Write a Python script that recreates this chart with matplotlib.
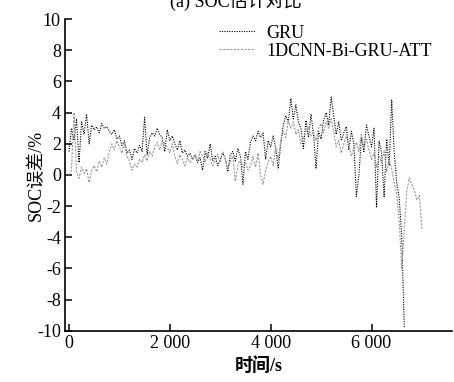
import numpy as np
import matplotlib
matplotlib.use("Agg")
import matplotlib.pyplot as plt

plt.rcParams["font.family"] = ["Liberation Serif", "Noto Sans CJK SC"]
plt.rcParams["axes.unicode_minus"] = False

# ============================================
# Data (SOC error in %, one sample every 50 s)
# ============================================
step_s = 50

gru_err = [
    1.5, 3.0, 2.2, 3.6, 0.8, 3.4, 2.6, 3.9, 2.0, 3.2,
    2.9, 3.1, 2.7, 3.3, 3.0, 3.1, 2.8, 2.6, 2.9, 2.3,
    2.5, 1.9, 2.2, 1.4, 1.6, 1.0, 1.7, 1.4, 1.9, 1.5,
    3.7, 1.3, 2.4, 2.7, 2.5, 3.0, 2.6, 2.4, 1.5, 2.9,
    2.2, 2.5, 2.0, 1.6, 2.2, 1.4, 1.6, 1.2, 1.4, 1.0,
    1.3, 0.8, 1.1, 0.3, 1.5, 1.1, 2.0, 0.9, 1.2, 0.6,
    1.0, 1.4, 1.1, 0.2, 1.3, 1.5, 0.9, 1.7, 1.2, -0.6,
    1.5, 1.0, 2.1, 2.5, 2.2, 2.8, 2.4, 2.7, 1.0, 2.2,
    1.8, 2.5, 1.7, 0.4, 2.0, 3.2, 3.8, 3.4, 4.9, 3.6,
    4.5, 3.4, 3.0, 1.7, 3.5, 2.4, 3.9, 2.6, 0.4, 2.8,
    2.3, 3.5, 4.0, 3.2, 5.0, 3.8, 2.6, 3.4, 2.2, 2.7,
    3.1, 1.6, 2.8, 2.0, -1.4, 0.0, 2.4, 1.5, 3.2, 2.5,
    1.8, 3.0, -2.1, 2.2, 1.4, -1.4, 2.3, 0.6, 4.8, 1.5,
    -0.5, -1.5, -4.0, -9.8,
]

att_err = [
    0.0, 0.3, 4.0, 0.2, -0.2, 0.5, 0.1, 0.4, -0.5, 0.3,
    0.6, 0.2, 0.9, 0.5, 1.1, 0.7, 1.5, 2.0, 1.6, 2.2,
    1.8, 1.4, 2.0, 1.2, 0.9, 0.3, 0.7, 0.5, 1.0, 0.8,
    1.3, 0.9, 1.5, 1.2, 1.8, 2.1, 1.6, 2.2, 2.0, 1.8,
    1.4, 2.0, 1.2, 0.7, 1.3, 1.0, 0.6, 1.1, 0.8, 1.0,
    1.3, 0.9, 1.5, 1.2, 0.8, 1.4, 1.0, 0.6, 0.9, 1.3,
    0.8, 1.5, 1.0, 0.4, 0.9, 1.2, -0.4, 0.6, 1.0, 0.5,
    0.8, 0.3, 0.6, 1.2, 0.5, 1.4, 0.0, -0.6, 0.3, 0.8,
    1.2, 0.6, 1.8, 1.0, 2.2, 2.8, 2.4, 3.5, 3.0, 3.4,
    2.6, 2.9, 2.0, 2.4, 2.8, 3.1, 2.5, 2.8, 2.2, 3.0,
    3.3, 2.7, 3.4, 3.0, 3.6, 2.8, 1.8, 2.2, 1.4, 2.0,
    2.5, 2.0, 1.2, 1.7, 2.1, 1.5, 2.6, 1.8, 2.3, 1.6,
    1.0, 1.4, 0.5, 1.2, 0.8, 1.5, 0.2, 1.0, 0.4, -0.5,
    -1.2, -3.0, -6.0, -3.5, -1.0, -0.2, -0.6, -1.0, -1.6, -1.3,
    -3.5,
]

series_names = ["GRU", "1DCNN-Bi-GRU-ATT"]
x_ticks = [0, 2000, 4000, 6000]
x_tick_labels = ["0", "2 000", "4 000", "6 000"]
y_ticks = list(range(-10, 11, 2))

t_gru = np.arange(len(gru_err)) * step_s
t_att = np.arange(len(att_err)) * step_s

# ============================================
# Plot
# ============================================
fig = plt.figure(figsize=(4.54, 3.82), dpi=100)
ax = fig.add_axes([0.143, 0.134, 0.853, 0.816])

ax.plot(t_gru, gru_err, color="black", linestyle=(0, (1, 1.2)), linewidth=0.8,
        label=series_names[0])
ax.plot(t_att, att_err, color="#9a9a9a", linestyle=(0, (2, 1.2)), linewidth=0.8,
        label=series_names[1])

ax.set_xlim(-80, 7600)
ax.set_ylim(-10, 10)
ax.set_xticks(x_ticks)
ax.set_xticklabels(x_tick_labels)
ax.set_yticks(y_ticks)

for side in ("top", "right"):
    ax.spines[side].set_visible(False)
ax.spines["left"].set_linewidth(1.2)
ax.spines["bottom"].set_linewidth(1.2)
ax.tick_params(direction="in", length=5, width=1.1, labelsize=13, pad=3)

ax.set_xlabel("时间/s", fontsize=13, fontweight="bold", labelpad=4)
ax.set_ylabel("SOC误差/%", fontsize=13)
ax.yaxis.set_label_coords(-0.052, 0.5)

ax.legend(loc="upper left", bbox_to_anchor=(0.38, 1.005), frameon=False,
          fontsize=13, handlelength=2.0, handletextpad=0.6,
          labelspacing=0.05, borderaxespad=0)

# title is partly cut off at the top edge, as in the source figure
fig.text(0.52, 0.998, "(a) SOC估计对比", ha="center", va="center", fontsize=13)

fig.savefig("out.png", dpi=100)
plt.close(fig)
